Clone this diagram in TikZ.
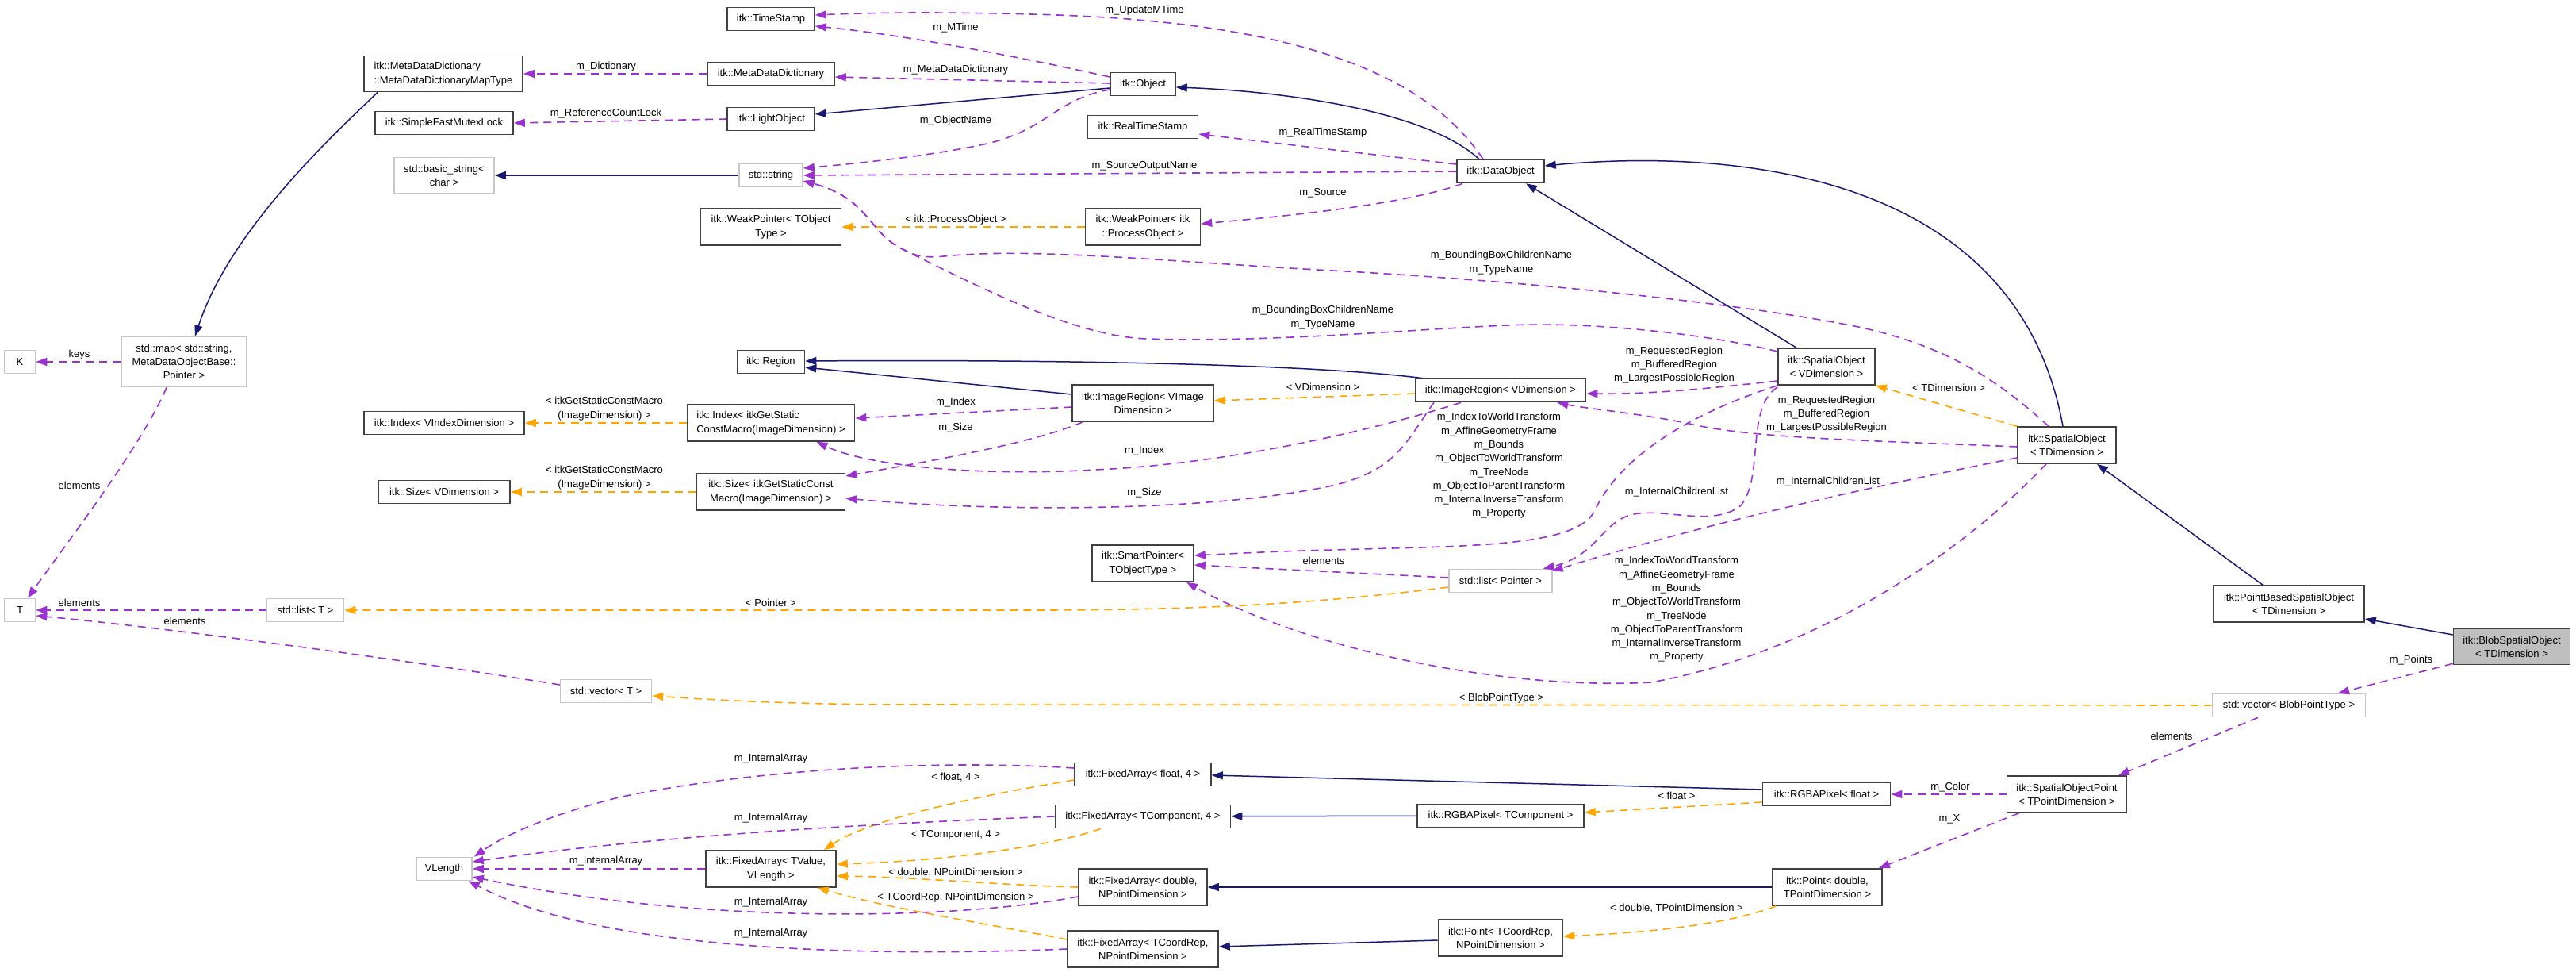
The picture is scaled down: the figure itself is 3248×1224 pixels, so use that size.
\documentclass[tikz,border=0pt]{standalone}
\usepackage{fontspec}
\setmainfont{Liberation Sans}
\usetikzlibrary{arrows.meta,calc}
\newcommand\lblfont{\fontsize{13}{17.3}\selectfont}
\definecolor{navyc}{HTML}{191970}
\definecolor{orchidc}{HTML}{9A32CD}
\definecolor{orangec}{HTML}{FFA500}
\begin{document}
\begin{tikzpicture}[x=1pt,y=-1pt,
  cls/.style={draw=black!75, line width=1.6pt, fill=white, inner sep=0pt, align=center, font=\lblfont},
  ext/.style={cls, draw=black!22},
  lab/.style={inner sep=0pt, align=center, font=\lblfont},
  inh/.style={draw=navyc, line width=1.5pt, -{Triangle[length=14pt,width=10pt]}},
  tpl/.style={draw=orangec, line width=1.6pt, dash pattern=on 10pt off 7pt, -{Triangle[length=14pt,width=10pt]}},
  use/.style={draw=orchidc, line width=1.6pt, dash pattern=on 10pt off 7pt, -{Triangle[length=14pt,width=10pt]}}]
\useasboundingbox (0,0) rectangle (3248,1224);
\fill[white] (0,0) rectangle (3248,1224);

% ---------- nodes ----------
\node[cls, minimum width=110pt, minimum height=29pt] (timestamp) at (972,24) {itk::TimeStamp};
\node[cls, minimum width=200pt, minimum height=45pt, align=left] (mapType) at (559,93) {itk::MetaDataDictionary\\::MetaDataDictionaryMapType};
\node[cls, minimum width=160pt, minimum height=29pt] (metaDict) at (972,93) {itk::MetaDataDictionary};
\node[cls, minimum width=174pt, minimum height=29pt] (mutex) at (560,155) {itk::SimpleFastMutexLock};
\node[cls, minimum width=110pt, minimum height=29pt] (lightObj) at (972,150) {itk::LightObject};
\node[ext, minimum width=126pt, minimum height=45pt] (basicString) at (560,221) {std::basic\_string<\\char >};
\node[ext, minimum width=80pt, minimum height=29pt] (stdString) at (972,221) {std::string};
\node[cls, minimum width=177pt, minimum height=46pt] (weakT) at (972,286) {itk::WeakPointer< TObject\\Type >};
\node[cls, minimum width=82pt, minimum height=29pt] (object) at (1441,106) {itk::Object};
\node[cls, minimum width=139pt, minimum height=29pt] (realTS) at (1441,160) {itk::RealTimeStamp};
\node[cls, minimum width=110pt, minimum height=29pt] (dataObj) at (1892,216) {itk::DataObject};
\node[cls, minimum width=145pt, minimum height=46pt] (weakPO) at (1441,286) {itk::WeakPointer< itk\\::ProcessObject >};
\node[ext, minimum width=39pt, minimum height=29pt] (K) at (25,456) {K};
\node[ext, minimum width=158pt, minimum height=63pt] (stdMap) at (232,456) {std::map< std::string,\\MetaDataObjectBase::\\Pointer >};
\node[cls, minimum width=85pt, minimum height=29pt] (region) at (972,456) {itk::Region};
\node[cls, minimum width=202pt, minimum height=29pt] (indexV) at (560,533) {itk::Index< VIndexDimension >};
\node[cls, minimum width=211pt, minimum height=46pt, align=left] (indexG) at (972,533) {itk::Index< itkGetStatic\\ConstMacro(ImageDimension) >};
\node[cls, minimum width=166pt, minimum height=29pt] (sizeV) at (560,620) {itk::Size< VDimension >};
\node[cls, minimum width=187pt, minimum height=46pt] (sizeG) at (972,620) {itk::Size< itkGetStaticConst\\Macro(ImageDimension) >};
\node[ext, minimum width=39pt, minimum height=29pt] (T) at (25,769) {T};
\node[ext, minimum width=97pt, minimum height=29pt] (listT) at (385,769) {std::list< T >};
\node[cls, minimum width=178pt, minimum height=46pt] (imgRegVI) at (1441,508) {itk::ImageRegion< VImage\\Dimension >};
\node[cls, minimum width=215pt, minimum height=29pt] (imgRegV) at (1892,492) {itk::ImageRegion< VDimension >};
\node[cls, minimum width=128pt, minimum height=46pt] (smartPtr) at (1441,710) {itk::SmartPointer<\\TObjectType >};
\node[ext, minimum width=130pt, minimum height=29pt] (listPtr) at (1892,732) {std::list< Pointer >};
\node[cls, minimum width=122pt, minimum height=46pt] (soV) at (2303,462) {itk::SpatialObject\\< VDimension >};
\node[cls, minimum width=124pt, minimum height=46pt] (soT) at (2606,561) {itk::SpatialObject\\< TDimension >};
\node[cls, minimum width=190pt, minimum height=46pt] (pbso) at (2886,761) {itk::PointBasedSpatialObject\\< TDimension >};
\node[cls, fill=black!25, minimum width=147pt, minimum height=45pt] (blob) at (3167,815) {itk::BlobSpatialObject\\< TDimension >};
\node[ext, minimum width=193pt, minimum height=29pt] (vecBlob) at (2886,889) {std::vector< BlobPointType >};
\node[cls, minimum width=151pt, minimum height=46pt] (sop) at (2606,1001) {itk::SpatialObjectPoint\\< TPointDimension >};
\node[cls, minimum width=161pt, minimum height=29pt] (rgbaF) at (2303,1001) {itk::RGBAPixel< float >};
\node[cls, minimum width=138pt, minimum height=46pt] (pointD) at (2304,1118) {itk::Point< double,\\TPointDimension >};
\node[cls, minimum width=172pt, minimum height=29pt] (faF4) at (1441,976) {itk::FixedArray< float, 4 >};
\node[cls, minimum width=221pt, minimum height=29pt] (faTC4) at (1441,1029) {itk::FixedArray< TComponent, 4 >};
\node[cls, minimum width=210pt, minimum height=29pt] (rgbaTC) at (1892,1028) {itk::RGBAPixel< TComponent >};
\node[cls, minimum width=162pt, minimum height=46pt] (faD) at (1441,1118) {itk::FixedArray< double,\\NPointDimension >};
\node[cls, minimum width=157pt, minimum height=46pt] (pointTC) at (1892,1182) {itk::Point< TCoordRep,\\NPointDimension >};
\node[cls, minimum width=190pt, minimum height=46pt] (faTCR) at (1441,1196) {itk::FixedArray< TCoordRep,\\NPointDimension >};
\node[ext, minimum width=115pt, minimum height=29pt] (vecT) at (764,871) {std::vector< T >};
\node[ext, minimum width=70pt, minimum height=29pt] (vlength) at (560,1095) {VLength};
\node[cls, minimum width=164pt, minimum height=46pt] (faTV) at (972,1095) {itk::FixedArray< TValue,\\VLength >};

% ---------- inheritance ----------
\draw[inh] ($(mapType.south west)+(18,0)$) .. controls (420,170) and (290,290) .. ($(stdMap.north)+(14,0)$);
\draw[inh] ($(object.west)+(0,5)$) -- ($(lightObj.east)+(0,-6)$);
\draw[inh] ($(dataObj.north)+(-27,0)$) .. controls (1800,140) and (1620,115) .. ($(object.east)+(0,4)$);
\draw[inh] (stdString) -- (basicString);
\draw[inh] ($(soT.north)+(-5,0)$) .. controls (2540,200) and (2150,190) .. ($(dataObj.east)+(0,-7)$);
\draw[inh] ($(soV.north)+(-38,0)$) -- ($(dataObj.south)+(32,0)$);
\draw[inh] ($(imgRegVI.west)+(0,-11)$) -- ($(region.east)+(0,7)$);
\draw[inh] ($(imgRegV.north west)+(10,0)$) .. controls (1650,458) and (1300,453) .. ($(region.east)+(0,-1)$);
\draw[inh] ($(pbso.north)+(-33,0)$) -- ($(soT.south)+(38,0)$);
\draw[inh] ($(blob.west)+(0,-15)$) -- ($(pbso.east)+(0,19)$);
\draw[inh] ($(rgbaF.west)+(0,-6)$) -- ($(faF4.east)+(0,1)$);
\draw[inh] (rgbaTC) -- (faTC4);
\draw[inh] (pointD) -- (faD);
\draw[inh] ($(pointTC.west)+(0,3)$) -- ($(faTCR.east)+(0,-3)$);

% ---------- template instantiation ----------
\draw[tpl] (weakPO) -- (weakT);
\draw[tpl] (indexG) -- (indexV);
\draw[tpl] (sizeG) -- (sizeV);
\draw[tpl] ($(imgRegV.west)+(0,4)$) -- ($(imgRegVI.east)+(0,-3)$);
\draw[tpl] (soT.north west) -- (soV.south east);
\draw[tpl] ($(listPtr.west)+(0,8)$) .. controls (1650,762) and (1500,769) .. (1300,769) -- (listT.east);
\draw[tpl] (vecBlob.west) -- (1150,888) .. controls (1000,888) and (900,882) .. ($(vecT.east)+(0,6)$);
\draw[tpl] ($(rgbaF.west)+(0,10)$) -- ($(rgbaTC.east)+(0,-4)$);
\draw[tpl] ($(pointD.south west)+(5,0)$) .. controls (2180,1165) and (2080,1175) .. ($(pointTC.east)+(0,-2)$);
\draw[tpl] ($(faF4.west)+(0,7)$) .. controls (1250,1000) and (1100,1030) .. ($(faTV.north east)+(-16,0)$);
\draw[tpl] ($(faTC4.south)+(-53,0)$) .. controls (1330,1065) and (1200,1085) .. ($(faTV.east)+(0,-6)$);
\draw[tpl] (faD.west) .. controls (1250,1115) and (1150,1105) .. ($(faTV.east)+(0,9)$);
\draw[tpl] ($(faTCR.west)+(0,-12)$) .. controls (1250,1165) and (1120,1145) .. ($(faTV.south east)+(-24,0)$);

% ---------- usage ----------
\draw[use] ($(object.west)+(0,-9)$) .. controls (1300,75) and (1150,45) .. ($(timestamp.east)+(0,9)$);
\draw[use] ($(dataObj.north)+(-22,0)$) .. controls (1790,80) and (1600,25) .. (1300,18) .. controls (1150,14) and (1080,17) .. ($(timestamp.east)+(0,-5)$);
\draw[use] (metaDict) -- (mapType);
\draw[use] ($(object.west)+(0,-1)$) -- ($(metaDict.east)+(0,4)$);
\draw[use] (lightObj.west) -- (mutex.east);
\draw[use] ($(object.west)+(0,7)$) .. controls (1330,125) and (1320,165) .. (1240,182) .. controls (1170,197) and (1080,206) .. ($(stdString.east)+(0,-9)$);
\draw[use] (dataObj.west) -- (stdString.east);
\draw[use] ($(soV.west)+(0,-19)$) .. controls (2150,420) and (2000,405) .. (1900,410) .. controls (1780,415) and (1600,432) .. (1446,427) .. controls (1360,424) and (1250,370) .. (1136,313) .. controls (1095,292) and (1095,250) .. ($(stdString.east)+(0,7)$);
\draw[use] ($(soT.north)+(-23,0)$) .. controls (2520,480) and (2450,430) .. (2317,407) .. controls (2200,385) and (1950,355) .. (1661,340) .. controls (1450,328) and (1300,312) .. (1190,323) .. controls (1160,326) and (1150,320) .. (1136,313) .. controls (1095,292) and (1095,250) .. ($(stdString.east)+(0,7)$);
\draw[use] ($(dataObj.west)+(0,-9)$) -- ($(realTS.east)+(0,9)$);
\draw[use] ($(dataObj.south west)+(8,0)$) .. controls (1780,255) and (1650,270) .. ($(weakPO.east)+(0,-4)$);
\draw[use] (stdMap) -- (K);
\draw[use] ($(stdMap.south)+(-22,0)$) .. controls (180,560) and (80,690) .. ($(T.north)+(10,0)$);
\draw[use] (listT) -- (T);
\draw[use] ($(vecT.west)+(0,-8)$) .. controls (500,830) and (200,790) .. ($(T.east)+(0,7)$);
\draw[use] ($(imgRegVI.west)+(0,5)$) -- ($(indexG.east)+(0,-6)$);
\draw[use] ($(imgRegVI.south west)+(14,0)$) .. controls (1300,560) and (1150,585) .. ($(sizeG.east)+(0,-20)$);
\draw[use] ($(imgRegV.south)+(-50,0)$) .. controls (1740,540) and (1550,585) .. (1381,592) .. controls (1250,600) and (1100,590) .. ($(indexG.south east)+(-49,0)$);
\draw[use] ($(imgRegV.south)+(-84,0)$) .. controls (1770,560) and (1760,600) .. (1654,617) .. controls (1500,645) and (1250,645) .. ($(sizeG.east)+(0,8)$);
\draw[use] ($(soV.west)+(0,18)$) .. controls (2150,490) and (2080,497) .. ($(imgRegV.east)+(0,4)$);
\draw[use] ($(soT.west)+(0,2)$) .. controls (2350,555) and (2200,552) .. (2126,533) .. controls (2060,520) and (2000,515) .. ($(imgRegV.south east)+(-37,0)$);
\draw[use] (soV.south west) .. controls (2120,525) and (2040,580) .. (2010,645) .. controls (1985,690) and (1850,688) .. (1680,693) .. controls (1600,695) and (1550,698) .. ($(smartPtr.east)+(0,-10)$);
\draw[use] ($(soT.south)+(-26,0)$) .. controls (2480,690) and (2300,820) .. (2082,860) .. controls (1900,870) and (1650,820) .. ($(smartPtr.south)+(55,0)$);
\draw[use] ($(listPtr.west)+(0,-4)$) -- ($(smartPtr.east)+(0,2)$);
\draw[use] ($(soV.south west)+(0,2)$) .. controls (2200,515) and (2225,600) .. (2195,637) .. controls (2160,665) and (2100,640) .. (2060,648) .. controls (2020,656) and (2015,700) .. ($(listPtr.north east)+(-12,0)$);
\draw[use] ($(soT.west)+(0,16)$) .. controls (2350,615) and (2150,660) .. ($(listPtr.north east)+(-1,3)$);
\draw[use] ($(blob.south west)+(0,-2)$) -- ($(vecBlob.north)+(62,0)$);
\draw[use] ($(vecBlob.south)+(-39,0)$) -- ($(sop.north)+(65,0)$);
\draw[use] (sop) -- (rgbaF);
\draw[use] ($(sop.south west)+(16,0)$) -- ($(pointD.north east)+(-5,0)$);
\draw[use] (faTV) -- (vlength);
\draw[use] ($(faF4.west)+(0,-8)$) .. controls (1150,955) and (920,975) .. (780,1005) .. controls (700,1025) and (640,1050) .. ($(vlength.north east)+(2,0)$);
\draw[use] (faTC4.west) .. controls (1150,1036) and (850,1050) .. ($(vlength.east)+(0,-9)$);
\draw[use] ($(faD.west)+(0,12)$) .. controls (1200,1160) and (880,1165) .. ($(vlength.east)+(0,10)$);
\draw[use] (faTCR.west) .. controls (1100,1206) and (760,1200) .. ($(vlength.south east)+(-5,0)$);

% ---------- labels ----------
\node[lab] (l1) at (1205,35) {m\_MTime};
\node[lab] (l2) at (1443,13) {m\_UpdateMTime};
\node[lab] (l3) at (764,84) {m\_Dictionary};
\node[lab] (l4) at (1205,88) {m\_MetaDataDictionary};
\node[lab] (l5) at (764,143) {m\_ReferenceCountLock};
\node[lab] (l6) at (1205,152) {m\_ObjectName};
\node[lab] (l7) at (1668,167) {m\_RealTimeStamp};
\node[lab] (l8) at (1443,209) {m\_SourceOutputName};
\node[lab] (l9) at (1668,243) {m\_Source};
\node[lab] (l10) at (1205,277) {< itk::ProcessObject >};
\node[lab] (l11) at (1893,331) {m\_BoundingBoxChildrenName\\m\_TypeName};
\node[lab] (l12) at (1668,400) {m\_BoundingBoxChildrenName\\m\_TypeName};
\node[lab] (l13) at (100,447) {keys};
\node[lab] (l14) at (762,515) {< itkGetStaticConstMacro\\(ImageDimension) >};
\node[lab] (l15) at (1205,507) {m\_Index};
\node[lab] (l16) at (1205,539) {m\_Size};
\node[lab] (l17) at (1668,488) {< VDimension >};
\node[lab] (l18) at (2111,460) {m\_RequestedRegion\\m\_BufferedRegion\\m\_LargestPossibleRegion};
\node[lab] (l19) at (2457,489) {< TDimension >};
\node[lab] (l20) at (2303,522) {m\_RequestedRegion\\m\_BufferedRegion\\m\_LargestPossibleRegion};
\node[lab] (l21) at (1443,568) {m\_Index};
\node[lab] (l22) at (762,602) {< itkGetStaticConstMacro\\(ImageDimension) >};
\node[lab] (l23) at (100,612) {elements};
\node[lab] (l24) at (1443,621) {m\_Size};
\node[lab] (l25) at (1890,587) {m\_IndexToWorldTransform\\m\_AffineGeometryFrame\\m\_Bounds\\m\_ObjectToWorldTransform\\m\_TreeNode\\m\_ObjectToParentTransform\\m\_InternalInverseTransform\\m\_Property};
\node[lab] (l26) at (2114,620) {m\_InternalChildrenList};
\node[lab] (l27) at (2305,607) {m\_InternalChildrenList};
\node[lab] (l28) at (1669,707) {elements};
\node[lab] (l29) at (2114,768) {m\_IndexToWorldTransform\\m\_AffineGeometryFrame\\m\_Bounds\\m\_ObjectToWorldTransform\\m\_TreeNode\\m\_ObjectToParentTransform\\m\_InternalInverseTransform\\m\_Property};
\node[lab] (l30) at (100,760) {elements};
\node[lab] (l31) at (972,760) {< Pointer >};
\node[lab] (l32) at (233,783) {elements};
\node[lab] (l33) at (3040,832) {m\_Points};
\node[lab] (l34) at (1893,880) {< BlobPointType >};
\node[lab] (l35) at (2738,928) {elements};
\node[lab] (l36) at (972,956) {m\_InternalArray};
\node[lab] (l37) at (1205,980) {< float, 4 >};
\node[lab] (l38) at (2459,992) {m\_Color};
\node[lab] (l39) at (2114,1003) {< float >};
\node[lab] (l40) at (972,1031) {m\_InternalArray};
\node[lab] (l41) at (1205,1052) {< TComponent, 4 >};
\node[lab] (l42) at (2458,1032) {m\_X};
\node[lab] (l43) at (764,1085) {m\_InternalArray};
\node[lab] (l44) at (1205,1100) {< double, NPointDimension >};
\node[lab] (l45) at (1205,1131) {< TCoordRep, NPointDimension >};
\node[lab] (l46) at (972,1137) {m\_InternalArray};
\node[lab] (l47) at (2114,1145) {< double, TPointDimension >};
\node[lab] (l48) at (972,1176) {m\_InternalArray};
\end{tikzpicture}
\end{document}
